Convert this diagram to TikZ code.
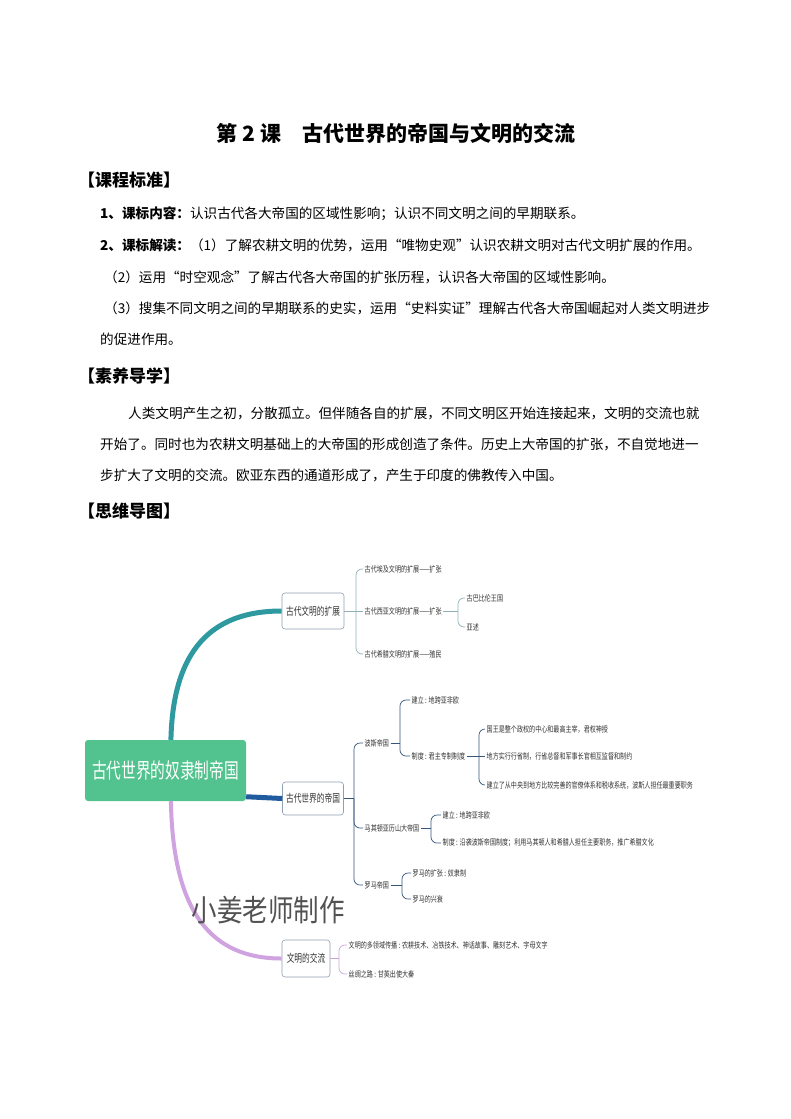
\documentclass[tikz,border=0pt]{standalone}
\usepackage{fontspec}
\usepackage{graphicx}
\setmainfont{Noto Sans CJK SC}
\definecolor{rootgreen}{HTML}{52C28E}
\definecolor{tealbr}{HTML}{2E9AA0}
\definecolor{bluebr}{HTML}{1F5B9E}
\definecolor{lavbr}{HTML}{CFA3E0}
\definecolor{subone}{HTML}{8FB2BA}
\definecolor{subtwo}{HTML}{35557A}
\definecolor{subthree}{HTML}{C9A6DA}
\definecolor{boxline}{HTML}{8E9FB0}
\definecolor{leaftext}{HTML}{333333}
\newcommand{\nar}[1]{\scalebox{0.7}[1]{#1}}
\newcommand{\sm}[1]{\scalebox{0.74}[1]{#1}}
\tikzset{
  body/.style={anchor=west, inner sep=0pt, font=\fontsize{13.6}{16}\selectfont},
  head/.style={anchor=west, inner sep=0pt, font=\fontsize{17}{20}\selectfont\bfseries},
  rootbox/.style={fill=rootgreen, rounded corners=3pt, minimum width=161pt, minimum height=61pt, inner sep=0pt, text=white, font=\fontsize{21}{21}\selectfont},
  topic/.style={draw=boxline, line width=0.6pt, fill=white, rounded corners=3pt, inner sep=0pt, text=leaftext, font=\fontsize{11}{11}\selectfont},
  leaf/.style={anchor=west, inner sep=1.5pt, text=leaftext, font=\fontsize{8.2}{9}\selectfont},
  brone/.style={draw=tealbr, line width=5pt},
  brtwo/.style={draw=bluebr, line width=5pt},
  brthree/.style={draw=lavbr, line width=4pt},
  subA/.style={draw=subone, line width=0.7pt, rounded corners=6pt},
  subB/.style={draw=subtwo, line width=0.7pt, rounded corners=6pt},
  subC/.style={draw=subthree, line width=0.7pt, rounded corners=6pt}
}
\begin{document}
\begin{tikzpicture}[x=1pt,y=-1pt]
\useasboundingbox[fill=white] (0,0) rectangle (790,1119);
% ---- header text ----
\node[inner sep=0pt, font=\fontsize{21}{23}\selectfont\bfseries] (title) at (396,133) {第 2 课　古代世界的帝国与文明的交流};
\node[head] (h1) at (78,180) {【课程标准】};
\node[body] (l1) at (100,214) {\textbf{1、课标内容：}认识古代各大帝国的区域性影响；认识不同文明之间的早期联系。};
\node[body] (l2) at (100,245) {\textbf{2、课标解读：}（1）了解农耕文明的优势，运用“唯物史观”认识农耕文明对古代文明扩展的作用。};
\node[body] (l3) at (104,277) {（2）运用“时空观念”了解古代各大帝国的扩张历程，认识各大帝国的区域性影响。};
\node[body] (l4) at (104,308) {（3）搜集不同文明之间的早期联系的史实，运用“史料实证”理解古代各大帝国崛起对人类文明进步};
\node[body] (l5) at (100,339) {的促进作用。};
\node[head] (h2) at (78,376) {【素养导学】};
\node[body] (p1) at (128,413) {人类文明产生之初，分散孤立。但伴随各自的扩展，不同文明区开始连接起来，文明的交流也就};
\node[body] (p2) at (100,444) {开始了。同时也为农耕文明基础上的大帝国的形成创造了条件。历史上大帝国的扩张，不自觉地进一};
\node[body] (p3) at (100,475) {步扩大了文明的交流。欧亚东西的通道形成了，产生于印度的佛教传入中国。};
\node[head] (h3) at (78,511) {【思维导图】};
% ---- mind map main nodes ----
\node[rootbox] (root) at (165.5,770.5) {\nar{古代世界的奴隶制帝国}};
\node[topic, minimum width=62pt, minimum height=36pt] (b1) at (313,611) {\nar{古代文明的扩展}};
\node[topic, minimum width=61pt, minimum height=33pt] (b2) at (313,798.5) {\nar{古代世界的帝国}};
\node[topic, minimum width=48pt, minimum height=37pt] (b3) at (306,958.5) {\nar{文明的交流}};
% main branches
\draw[brone] (root.80) .. controls +(2,-90) and +(-70,0) .. (b1.west);
\draw[brtwo] (root.-18) .. controls +(18,0) and +(-18,0) .. (b2.west);
\draw[brthree] (root.-80) .. controls +(2,112) and +(-70,0) .. (b3.west);
% ---- branch 1 ----
\node[leaf] (c11) at (363,569) {\sm{古代埃及文明的扩展——扩张}};
\node[leaf] (c12) at (363,611) {\sm{古代西亚文明的扩展——扩张}};
\node[leaf] (c13) at (363,654) {\sm{古代希腊文明的扩展——殖民}};
\coordinate (j1) at (356,611);
\draw[subA] (b1.east) -- (j1);
\draw[subA] (j1) |- (c11.west);
\draw[subA] (j1) -- (c12.west);
\draw[subA] (j1) |- (c13.west);
\node[leaf] (c121) at (465,598) {\sm{古巴比伦王国}};
\node[leaf] (c122) at (465,627) {\sm{亚述}};
\coordinate (j12) at (458,611);
\draw[subA] (c12.east) -- (j12);
\draw[subA] (j12) |- (c121.west);
\draw[subA] (j12) |- (c122.west);
% ---- branch 2 ----
\node[leaf] (c21) at (363,743) {\sm{波斯帝国}};
\node[leaf] (c22) at (363,828) {\sm{马其顿亚历山大帝国}};
\node[leaf] (c23) at (363,885) {\sm{罗马帝国}};
\coordinate (j2) at (354,798.5);
\draw[subB] (b2.east) -- (j2);
\draw[subB] (j2) |- (c21.west);
\draw[subB] (j2) |- (c22.west);
\draw[subB] (j2) |- (c23.west);
\node[leaf] (c211) at (410,700) {\sm{建立 : 地跨亚非欧}};
\node[leaf] (c212) at (410,756) {\sm{制度 : 君主专制制度}};
\coordinate (j21) at (400,743);
\draw[subB] (c21.east) -- (j21);
\draw[subB] (j21) |- (c211.west);
\draw[subB] (j21) |- (c212.west);
\node[leaf] (c2121) at (485,729) {\sm{国王是整个政权的中心和最高主宰，君权神授}};
\node[leaf] (c2122) at (485,756) {\sm{地方实行行省制，行省总督和军事长官相互监督和制约}};
\node[leaf] (c2123) at (485,785) {\sm{建立了从中央到地方比较完善的官僚体系和税收系统，波斯人担任最重要职务}};
\coordinate (j212) at (479,756);
\draw[subB] (c212.east) -- (j212);
\draw[subB] (j212) |- (c2121.west);
\draw[subB] (j212) -- (c2122.west);
\draw[subB] (j212) |- (c2123.west);
\node[leaf] (c221) at (441,815) {\sm{建立 : 地跨亚非欧}};
\node[leaf] (c222) at (441,843) {\sm{制度 : 沿袭波斯帝国制度；利用马其顿人和希腊人担任主要职务，推广希腊文化}};
\coordinate (j22) at (431,828);
\draw[subB] (c22.east) -- (j22);
\draw[subB] (j22) |- (c221.west);
\draw[subB] (j22) |- (c222.west);
\node[leaf] (c231) at (411,873) {\sm{罗马的扩张 : 奴隶制}};
\node[leaf] (c232) at (411,899) {\sm{罗马的兴衰}};
\coordinate (j23) at (402,885);
\draw[subB] (c23.east) -- (j23);
\draw[subB] (j23) |- (c231.west);
\draw[subB] (j23) |- (c232.west);
% ---- branch 3 ----
\node[leaf] (c31) at (347,945) {\sm{文明的多领域传播 : 农耕技术、冶铁技术、神话故事、雕刻艺术、字母文字}};
\node[leaf] (c32) at (347,974) {\sm{丝绸之路 : 甘英出使大秦}};
\coordinate (j3) at (339,958.5);
\draw[subC] (b3.east) -- (j3);
\draw[subC] (j3) |- (c31.west);
\draw[subC] (j3) |- (c32.west);
% ---- watermark ----
\node[inner sep=0pt, text=black!68, font=\fontsize{30}{30}\selectfont] (wm) at (268,910) {\scalebox{0.85}[1]{小姜老师制作}};
\end{tikzpicture}
\end{document}
